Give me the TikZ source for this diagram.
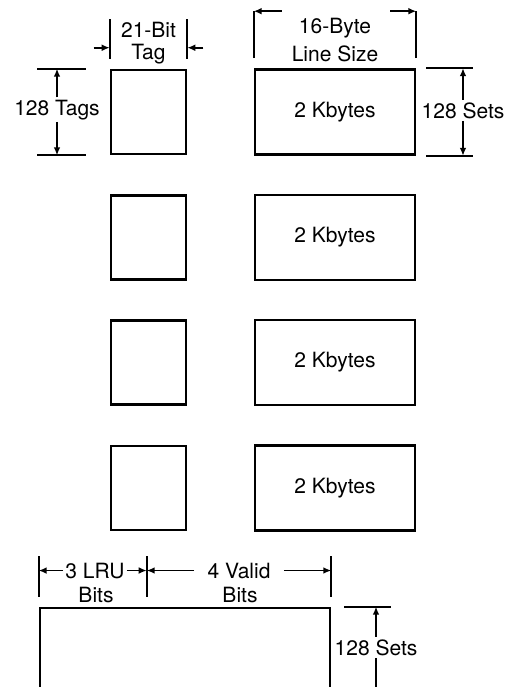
\documentclass[tikz,border=0pt]{standalone}
\usepackage{fontspec}
\setmainfont{TeX Gyre Heros}
\usetikzlibrary{arrows.meta}
\newcommand{\lblfont}{\fontsize{10.5}{12}\selectfont}

\begin{document}
\begin{tikzpicture}[x=0.5pt, y=-0.5pt,
  box/.style={draw, line width=1.3pt, inner sep=0pt, font=\lblfont},
  tagbox/.style={box, minimum width=37.5pt, minimum height=42pt},
  databox/.style={box, minimum width=80pt, minimum height=42.5pt},
  ext/.style={line width=1.1pt},
  dim/.style={-{Latex[length=4pt,width=3.4pt]}, line width=0.9pt},
  lbl/.style={font=\lblfont, inner sep=1pt}
]
\useasboundingbox (0,0) rectangle (509,687);
% tag and data arrays of the four ways
\foreach \i/\y in {1/112,2/237.5,3/362.5,4/488}{
  \node[tagbox] (tag\i) at (148.5,\y) {};
  \node[databox] (data\i) at (335,\y) {2 Kbytes};
}
% LRU / valid bits array, cut at the bottom edge
\begin{scope}
\clip (0,0) rectangle (509,687);
\node[box, minimum width=145pt, minimum height=80pt] (lru) at (185,688) {};
\end{scope}

% 21-Bit Tag
\node[lbl, anchor=base] (tagTxtA) at (148.5,37) {21-Bit};
\node[lbl, anchor=base] (tagTxtB) at (148.5,59) {Tag};
\draw[ext] ([yshift=5pt]tag1.north west) -- ([yshift=25pt]tag1.north west);
\draw[ext] ([yshift=5pt]tag1.north east) -- ([yshift=25pt]tag1.north east);
\draw[dim] ([shift={(-8pt,10.5pt)}]tag1.north west) -- ([yshift=10.5pt]tag1.north west);
\draw[dim] ([shift={(8pt,10.5pt)}]tag1.north east) -- ([yshift=10.5pt]tag1.north east);

% 128 Tags
\node[lbl, anchor=base] (tagsTxt) at (57,115) {128 Tags};
\draw[ext] ([xshift=-12pt]tag1.north west) -- ([xshift=-36.5pt]tag1.north west);
\draw[ext] ([xshift=-12pt]tag1.south west) -- ([xshift=-36.5pt]tag1.south west);
\draw[dim] (tagsTxt.north) -- (tagsTxt.north |- tag1.north);
\draw[dim] (tagsTxt.south) -- (tagsTxt.south |- tag1.south);

% 16-Byte Line Size
\node[lbl, anchor=base] (lineTxtA) at (335,33) {16-Byte};
\node[lbl, anchor=base] (lineTxtB) at (335,61) {Line Size};
\draw[ext] ([yshift=5pt]data1.north west) -- ([yshift=28.5pt]data1.north west);
\draw[ext] ([yshift=5pt]data1.north east) -- ([yshift=28.5pt]data1.north east);
\draw[dim] ([shift={(14pt,28.5pt)}]data1.north west) -- ([yshift=28.5pt]data1.north west);
\draw[dim] ([shift={(-13pt,28.5pt)}]data1.north east) -- ([yshift=28.5pt]data1.north east);

% 128 Sets (data)
\node[lbl, anchor=base] (setsTxtA) at (463,118) {128 Sets};
\draw[ext] ([xshift=5pt]data1.north east) -- ([xshift=28.5pt]data1.north east);
\draw[ext] ([xshift=5pt]data1.south east) -- ([xshift=28.5pt]data1.south east);
\draw[dim] (setsTxtA.north) -- (setsTxtA.north |- data1.north);
\draw[dim] (setsTxtA.south) -- (setsTxtA.south |- data1.south);

% 3 LRU Bits / 4 Valid Bits
\coordinate (midExt) at ([xshift=54pt]lru.north west);
\node[lbl, anchor=base] (lruTxtA) at (95,578) {3 LRU};
\node[lbl, anchor=base] (lruTxtB) at (96,602) {Bits};
\node[lbl, anchor=base, inner xsep=6.5pt] (validTxtA) at (239,578) {4 Valid};
\node[lbl, anchor=base] (validTxtB) at (240,602) {Bits};
\draw[ext] ([yshift=5pt]lru.north west) -- ([yshift=25.5pt]lru.north west);
\draw[ext] ([yshift=5pt]midExt) -- ([yshift=25.5pt]midExt);
\draw[ext] ([yshift=5pt]lru.north east) -- ([yshift=25.5pt]lru.north east);
\draw[dim] (lruTxtA.west) -- (lruTxtA.west -| lru.west);
\draw[dim] (lruTxtA.east) -- (lruTxtA.east -| midExt);
\draw[dim] (validTxtA.west) -- (validTxtA.west -| midExt);
\draw[dim] (validTxtA.east) -- (validTxtA.east -| lru.east);

% 128 Sets (LRU)
\node[lbl, anchor=base] (setsTxtB) at (376,655) {128 Sets};
\draw[ext] ([xshift=6.5pt]lru.north east) -- ([xshift=30pt]lru.north east);
\draw[dim] (setsTxtB.north) -- (setsTxtB.north |- lru.north);
\begin{scope}
\clip (0,0) rectangle (509,687);
\draw[dim] (setsTxtB.south) -- (setsTxtB.south |- lru.south);
\end{scope}
\end{tikzpicture}
\end{document}
